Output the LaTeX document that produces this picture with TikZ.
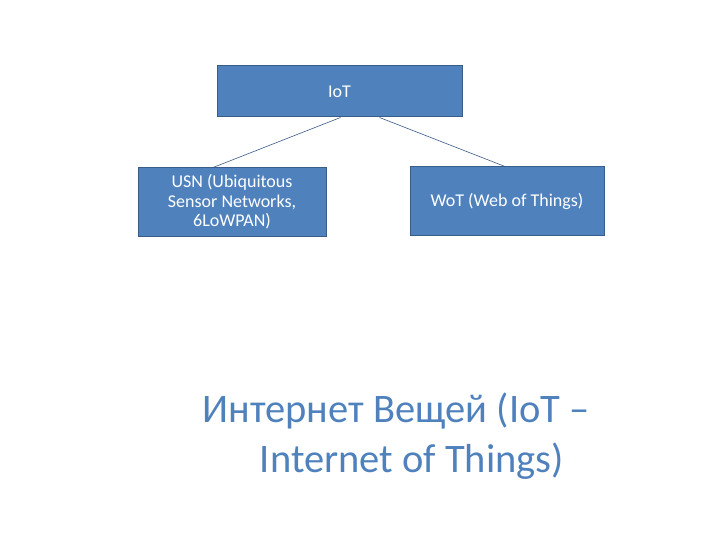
\documentclass[tikz,border=0pt]{standalone}
\usepackage{fontspec}
\setmainfont{Carlito}
\definecolor{boxfill}{HTML}{4F81BD}
\definecolor{boxline}{HTML}{385D8A}
\definecolor{titleblue}{HTML}{4F81BD}
\definecolor{linkcol}{HTML}{3A5A85}
\begin{document}
\begin{tikzpicture}[x=1pt,y=-1pt,
  box/.style={draw=boxline, line width=1pt, fill=boxfill, text=white, inner sep=0pt, align=center,
    font=\fontsize{18}{19.5}\selectfont},
  link/.style={draw=linkcol, line width=0.6pt}]
\useasboundingbox (0,0) rectangle (720,540);
\node[box, minimum width=245pt, minimum height=51pt] (iot) at (339.5,91.5) {IoT};
\node[box, minimum width=188pt, minimum height=68pt] (usn) at (232,202) {USN (Ubiquitous\\Sensor Networks,\\6LoWPAN)};
\node[box, minimum width=194pt, minimum height=68pt] (wot) at (507,201) {WoT (Web of Things)};
\coordinate (a1) at ([xshift=1pt]iot.south);
\coordinate (a2) at ([xshift=40pt]iot.south);
\draw[link] (a1) -- ([xshift=-19pt]usn.north);
\draw[link] (a2) -- ([xshift=-2pt]wot.north);
\node[text=titleblue, align=center, font=\fontsize{40.5}{49.5}\selectfont] (title) at (412,436) {Интернет Вещей (IoT –\hspace*{32pt}\\Internet of Things)};
\end{tikzpicture}
\end{document}
